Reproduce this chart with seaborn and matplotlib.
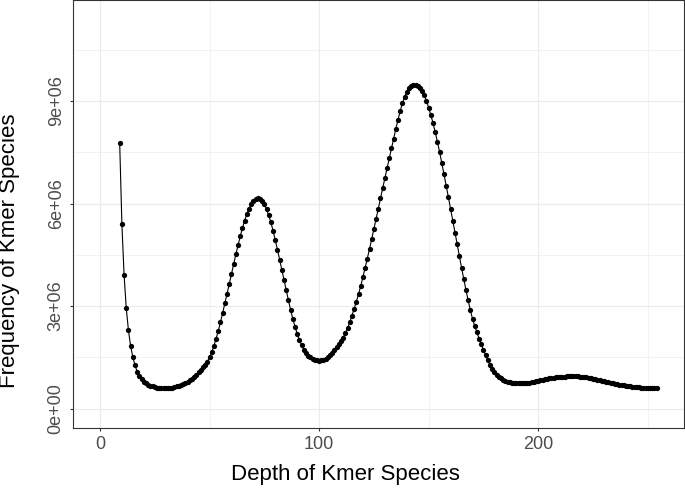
import numpy as np
import pandas as pd
import seaborn as sns
import matplotlib
matplotlib.use('Agg')
import matplotlib.pyplot as plt
from matplotlib.ticker import FixedLocator, FuncFormatter

# k-mer depth histogram, frequencies in millions
first_depth = 9
last_depth = 254

# depth 9-29: error k-mers
freq_error = [7.78, 5.41, 3.92, 2.94, 2.29, 1.83, 1.51, 1.27, 1.08, 0.95,
              0.86, 0.79, 0.74, 0.70, 0.67, 0.65, 0.63, 0.62, 0.61, 0.60,
              0.60]
# depth 30-100: heterozygous peak
freq_peak1 = [0.60, 0.60, 0.61, 0.62, 0.63, 0.65, 0.67, 0.69, 0.72, 0.75,
              0.79, 0.83, 0.88, 0.93, 0.99, 1.06, 1.13, 1.21, 1.29, 1.38,
              1.50, 1.65, 1.84, 2.05, 2.28, 2.53, 2.80, 3.08, 3.36, 3.65,
              3.94, 4.23, 4.51, 4.78, 5.04, 5.28, 5.50, 5.69, 5.85, 5.98,
              6.08, 6.14, 6.16, 6.14, 6.08, 5.98, 5.83, 5.65, 5.45, 5.20,
              4.93, 4.65, 4.36, 4.06, 3.76, 3.46, 3.17, 2.89, 2.63, 2.40,
              2.19, 2.01, 1.86, 1.73, 1.63, 1.55, 1.50, 1.46, 1.43, 1.41,
              1.40]
# depth 101-190: homozygous peak
freq_peak2 = [1.41, 1.43, 1.46, 1.51, 1.57, 1.64, 1.72, 1.80, 1.89, 1.98,
              2.08, 2.21, 2.36, 2.53, 2.72, 2.92, 3.13, 3.35, 3.59, 3.85,
              4.12, 4.39, 4.67, 4.96, 5.25, 5.55, 5.85, 6.15, 6.45, 6.74,
              7.03, 7.32, 7.61, 7.90, 8.18, 8.45, 8.70, 8.93, 9.12, 9.27,
              9.37, 9.43, 9.46, 9.46, 9.44, 9.38, 9.29, 9.17, 9.00, 8.80,
              8.58, 8.35, 8.08, 7.80, 7.50, 7.18, 6.85, 6.52, 6.18, 5.84,
              5.50, 5.15, 4.81, 4.46, 4.12, 3.79, 3.47, 3.17, 2.88, 2.63,
              2.42, 2.23, 2.05, 1.88, 1.72, 1.56, 1.41, 1.28, 1.17, 1.08,
              1.00, 0.94, 0.89, 0.85, 0.82, 0.79, 0.77, 0.76, 0.75, 0.74]
# depth 191-254: repeats tail
freq_tail = [0.74, 0.74, 0.74, 0.74, 0.75, 0.76, 0.77, 0.78, 0.80, 0.81,
             0.83, 0.85, 0.86, 0.88, 0.89, 0.90, 0.91, 0.92, 0.93, 0.93,
             0.94, 0.94, 0.95, 0.95, 0.95, 0.95, 0.95, 0.95, 0.94, 0.94,
             0.93, 0.92, 0.91, 0.90, 0.88, 0.87, 0.85, 0.83, 0.82, 0.80,
             0.79, 0.77, 0.76, 0.74, 0.73, 0.71, 0.70, 0.69, 0.68, 0.67,
             0.66, 0.65, 0.64, 0.64, 0.63, 0.63, 0.62, 0.62, 0.61, 0.61,
             0.61, 0.61, 0.60, 0.60]

x_ticks = [0, 100, 200]
y_ticks = [0, 3e6, 6e6, 9e6]
y_tick_labels = ['0e+00', '3e+06', '6e+06', '9e+06']

freqs = freq_error + freq_peak1 + freq_peak2 + freq_tail
df = pd.DataFrame({'depth': list(range(first_depth, last_depth + 1)),
                   'freq': np.array(freqs) * 1e6})

sns.set_theme(style='white')
plt.rcParams['font.family'] = ['Liberation Sans', 'DejaVu Sans']

fig = plt.figure(figsize=(6.85, 4.91), dpi=100)
ax = fig.add_axes([73 / 685, (491 - 428) / 491, 611 / 685, 428 / 491])

sns.lineplot(data=df, x='depth', y='freq', ax=ax, color='black',
             linewidth=0.8, marker='o', markersize=3.8, markeredgewidth=0,
             zorder=3)

ax.set_xlim(-12.3, 266.5)
ax.set_ylim(-0.564e6, 11.95e6)

ax.xaxis.set_major_locator(FixedLocator(x_ticks))
ax.xaxis.set_minor_locator(FixedLocator([50, 150, 250]))
ax.yaxis.set_major_locator(FixedLocator(y_ticks))
ax.yaxis.set_minor_locator(FixedLocator([1.5e6, 4.5e6, 7.5e6, 10.5e6]))
ax.yaxis.set_major_formatter(FuncFormatter(lambda v, p: y_tick_labels[y_ticks.index(v)]))

ax.grid(which='major', color='#EBEBEB', linewidth=0.8)
ax.grid(which='minor', color='#EBEBEB', linewidth=0.45)
ax.set_axisbelow(True)

for s in ax.spines.values():
    s.set_color('#333333')
    s.set_linewidth(0.8)

ax.tick_params(axis='both', which='major', length=2.5, width=0.8, color='#333333',
               labelcolor='#4D4D4D', labelsize=13, bottom=True, left=True)
ax.tick_params(axis='x', which='major', pad=3.5)
ax.tick_params(axis='y', which='major', pad=3.5)
ax.tick_params(which='minor', length=0)
for lab in ax.get_yticklabels():
    lab.set_rotation(90)
    lab.set_va('center')

ax.set_xlabel('')
ax.set_ylabel('')
fig.text(345 / 685, (491 - 480) / 491, 'Depth of Kmer Species', ha='center',
         va='baseline', fontsize=16, color='black')
fig.text(9.5 / 685, (491 - 251) / 491, 'Frequency of Kmer Species', ha='center',
         va='center', rotation=90, fontsize=16, color='black')

fig.savefig('out.png', dpi=100)
